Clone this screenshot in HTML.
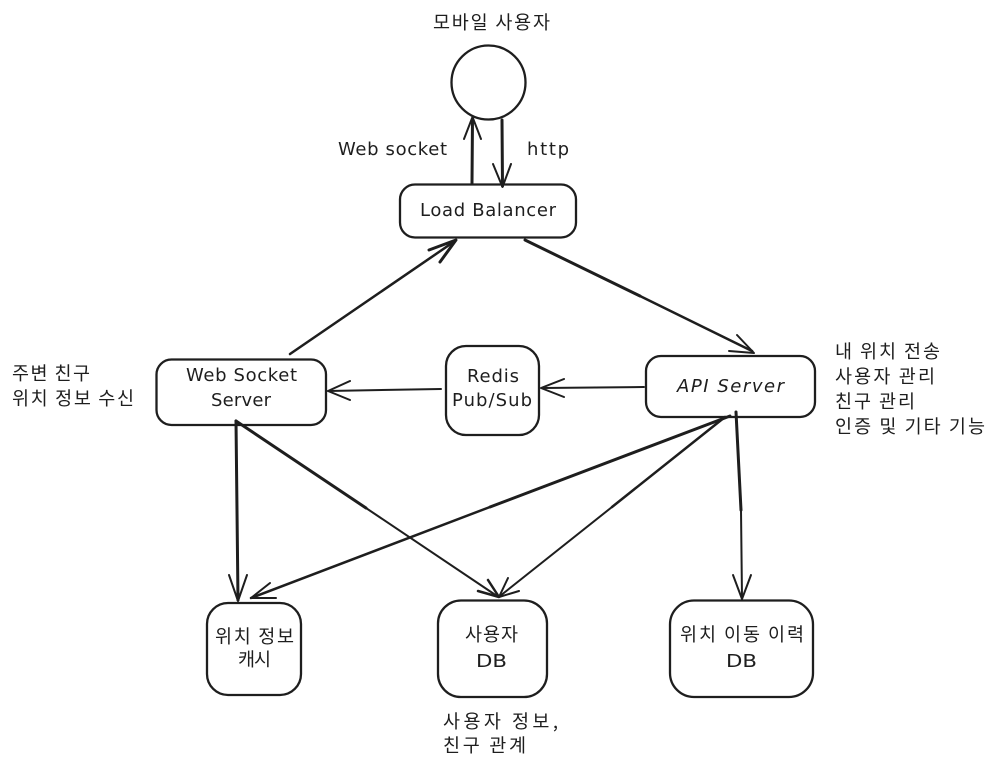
<!DOCTYPE html>
<html><head><meta charset="utf-8"><style>
html,body{margin:0;padding:0;background:#fff}
svg{display:block}
.k{font-family:"Noto Sans CJK KR","Liberation Sans",sans-serif;font-size:18.500px;fill:#1e1e1e}
.l{font-family:"DejaVu Sans","Noto Sans CJK KR",sans-serif;font-size:18px;fill:#1e1e1e}
.s{fill:#fff;stroke:#1e1e1e;stroke-width:2.300}
.a{fill:none;stroke:#1e1e1e;stroke-width:2;stroke-linecap:round;stroke-linejoin:round}
.t{stroke-width:3}
.m{stroke-width:2.500}
</style></head><body>
<svg width="995" height="768" viewBox="0 0 995 768" xmlns="http://www.w3.org/2000/svg">
<rect width="995" height="768" fill="#fff"/>
<circle class="s" cx="488.500" cy="82.500" r="37"/>
<rect class="s" x="400" y="184.500" width="176" height="53" rx="15"/>
<rect class="s" x="156.500" y="359.500" width="169.500" height="65.500" rx="15"/>
<rect class="s" x="446" y="346" width="93" height="89" rx="20"/>
<rect class="s" x="646" y="356" width="169" height="61" rx="15"/>
<rect class="s" x="207" y="603" width="94" height="92" rx="21"/>
<rect class="s" x="438" y="600.500" width="109" height="96.500" rx="23"/>
<rect class="s" x="670" y="600.500" width="143" height="96.500" rx="24"/>

<path class="a t" d="M472 183 L472.500 119"/>
<path class="a" d="M464 139 L472.500 117 L481 139"/>
<path class="a t" d="M502 120 L502.500 186"/>
<path class="a" d="M493 164 L502.500 187 L511 164"/>

<path class="a m" d="M290 354 L455 241"/>
<path class="a t" d="M429 250 L456 240 L440 262"/>
<path class="a t" d="M525 240 L640 296"/>
<path class="a m" d="M640 296 L752 351"/>
<path class="a" d="M737 335 L754 353 L729 351"/>

<path class="a" d="M644 387 L542 388"/>
<path class="a" d="M564 379 L541 388 L564 397"/>
<path class="a" d="M441 389 L328 391"/>
<path class="a" d="M350 381 L328 391 L350 400"/>

<path class="a t" d="M236 421 L238 600"/>
<path class="a" d="M229 575 L238 601 L247 575"/>
<path class="a t" d="M236 421 L366 508"/>
<path class="a" d="M366 508 L497 596"/>
<path class="a m" d="M488 580 L499 597 L478 591"/>
<path class="a t" d="M730 416 L490 507"/>
<path class="a m" d="M490 507 L251 598"/>
<path class="a" d="M270 583 L251 598 L276 598"/>
<path class="a m" d="M725 417 L612 507"/>
<path class="a" d="M612 507 L500 596"/>
<path class="a" d="M508 578 L499 597 L519 591"/>
<path class="a t" d="M736 412 L741 510"/>
<path class="a" d="M741 510 L742 598"/>
<path class="a" d="M733 575 L742 599 L751 575"/>

<text class="k" x="433" y="29" textLength="117">모바일 사용자</text>
<text class="l" x="338" y="155" textLength="109">Web socket</text>
<text class="l" x="527" y="155" textLength="42">http</text>
<text class="l" x="420" y="216" textLength="136">Load Balancer</text>

<text class="l" x="186" y="381" textLength="111">Web Socket</text>
<text class="l" x="211" y="406" textLength="60">Server</text>
<text class="l" x="467" y="382" textLength="52">Redis</text>
<text class="l" x="452" y="406" textLength="80">Pub/Sub</text>
<text class="l" x="677" y="392" textLength="107" font-style="italic">API Server</text>

<text class="k" x="12" y="380" textLength="78">주변 친구</text>
<text class="k" x="12" y="405" textLength="122">위치 정보 수신</text>

<text class="k" x="835" y="358" textLength="105">내 위치 전송</text>
<text class="k" x="835" y="383" textLength="100">사용자 관리</text>
<text class="k" x="835" y="408" textLength="80">친구 관리</text>
<text class="k" x="835" y="433" textLength="150">인증 및 기타 기능</text>

<text class="k" x="215" y="643" textLength="79">위치 정보</text>
<text class="k" x="238" y="666" textLength="33">캐시</text>
<text class="k" x="465" y="641" textLength="53">사용자</text>
<text class="l" x="476" y="667" textLength="31" lengthAdjust="spacingAndGlyphs">DB</text>
<text class="k" x="680" y="641" textLength="124">위치 이동 이력</text>
<text class="l" x="726" y="667" textLength="31" lengthAdjust="spacingAndGlyphs">DB</text>

<text class="k" x="443" y="728" textLength="115">사용자 정보,</text>
<text class="k" x="443" y="752" textLength="83">친구 관계</text>
</svg>
</body></html>
